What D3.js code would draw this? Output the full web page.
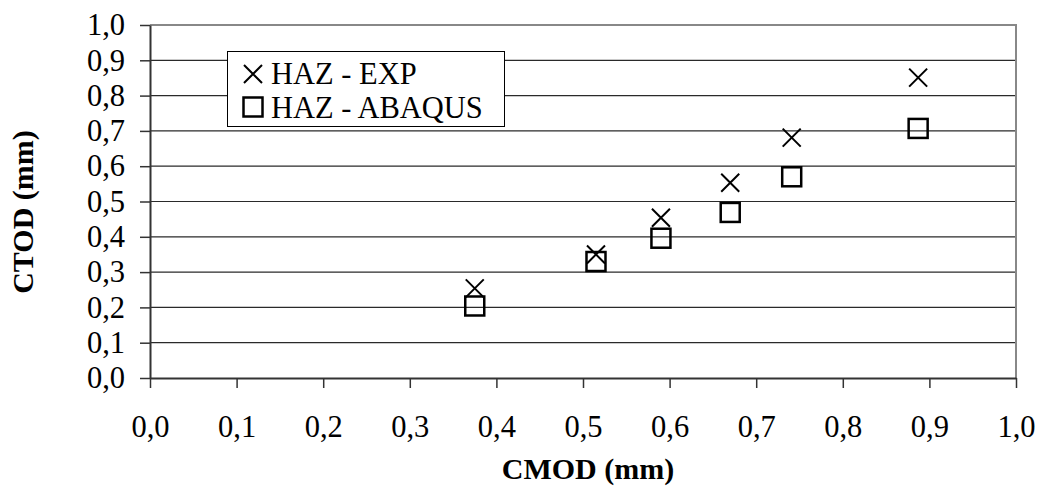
<!DOCTYPE html>
<html>
<head>
<meta charset="utf-8">
<script src="https://cdn.jsdelivr.net/npm/d3@7"></script>
<style>
  html, body { margin: 0; padding: 0; background: #fff; }
  svg { display: block; }
  text { font-family: "Liberation Serif", "Times New Roman", serif; fill: #000; }
</style>
</head>
<body>
<div id="chart"></div>
<script>
// CMOD vs CTOD measurements for the heat-affected zone
const cmod        = [0.375, 0.515, 0.590, 0.670, 0.741, 0.887];
const ctodExp     = [0.254, 0.350, 0.454, 0.553, 0.681, 0.851];
const ctodAbaqus  = [0.204, 0.330, 0.396, 0.469, 0.570, 0.707];
const seriesNames = ["HAZ - EXP", "HAZ - ABAQUS"];
const xTicks = [0, 0.1, 0.2, 0.3, 0.4, 0.5, 0.6, 0.7, 0.8, 0.9, 1.0];
const yTicks = [0, 0.1, 0.2, 0.3, 0.4, 0.5, 0.6, 0.7, 0.8, 0.9, 1.0];

const W = 1045, H = 486;
const plot = { left: 150, top: 25, right: 1016, bottom: 378 };
const FONT = '"Liberation Serif", "Times New Roman", serif';
const fmt = d => d3.format(".1f")(d).replace(".", ",");

const svg = d3.select("#chart").append("svg")
  .attr("width", W).attr("height", H);

const x = d3.scaleLinear().domain([0, 1]).range([plot.left, plot.right]);
const y = d3.scaleLinear().domain([0, 1]).range([plot.bottom, plot.top]);

// horizontal gridlines
svg.append("g")
  .selectAll("line")
  .data(yTicks.filter(d => d > 0 && d < 1))
  .join("line")
  .attr("x1", plot.left).attr("x2", plot.right)
  .attr("y1", d => y(d)).attr("y2", d => y(d))
  .attr("stroke", "#2a2a2a").attr("stroke-width", 1.2);

// plot-area frame (top and right)
svg.append("path")
  .attr("d", `M${plot.left},${y(1)}H${plot.right}V${plot.bottom}`)
  .attr("fill", "none").attr("stroke", "#888").attr("stroke-width", 2);

// axes
const xAxis = d3.axisBottom(x).tickValues(xTicks).tickFormat(fmt)
  .tickSize(10).tickSizeOuter(0).tickPadding(27);
const yAxis = d3.axisLeft(y).tickValues(yTicks).tickFormat(fmt)
  .tickSize(10).tickSizeOuter(0).tickPadding(15);

const gx = svg.append("g").attr("transform", `translate(0,${plot.bottom})`).call(xAxis);
const gy = svg.append("g").attr("transform", `translate(${plot.left},0)`).call(yAxis);

[gx, gy].forEach(g => {
  g.attr("font-family", FONT);
  g.select(".domain").attr("stroke", "#333").attr("stroke-width", 2);
  g.selectAll(".tick line").attr("stroke", "#333").attr("stroke-width", 1.5);
  g.selectAll(".tick text")
    .style("font-family", FONT)
    .style("font-size", "30.5px").attr("fill", "#000");
});

// axis titles
svg.append("text")
  .attr("x", 588).attr("y", 479)
  .attr("text-anchor", "middle")
  .style("font-family", FONT)
  .style("font-size", "30px").style("font-weight", "bold")
  .text("CMOD (mm)");

svg.append("text")
  .attr("transform", "translate(33,212) rotate(-90)")
  .attr("text-anchor", "middle")
  .style("font-family", FONT)
  .style("font-size", "30px").style("font-weight", "bold")
  .text("CTOD (mm)");

// marker shapes
const crossHalf = 9, squareHalf = 9.5;
function drawCross(g, cx, cy) {
  g.append("path")
    .attr("d", `M${cx - crossHalf},${cy - crossHalf}L${cx + crossHalf},${cy + crossHalf}M${cx - crossHalf},${cy + crossHalf}L${cx + crossHalf},${cy - crossHalf}`)
    .attr("stroke", "#000").attr("stroke-width", 2).attr("fill", "none");
}
function drawSquare(g, cx, cy) {
  g.append("rect")
    .attr("x", cx - squareHalf).attr("y", cy - squareHalf)
    .attr("width", squareHalf * 2).attr("height", squareHalf * 2)
    .attr("fill", "none").attr("stroke", "#000").attr("stroke-width", 2.5);
}

const marks = svg.append("g");
cmod.forEach((c, i) => drawCross(marks, x(c), y(ctodExp[i])));
cmod.forEach((c, i) => drawSquare(marks, x(c), y(ctodAbaqus[i])));

// legend
const legend = svg.append("g");
legend.append("rect")
  .attr("x", 227.5).attr("y", 51.5).attr("width", 277).attr("height", 75)
  .attr("fill", "#fff").attr("stroke", "#000").attr("stroke-width", 1);
drawCross(legend, 253, 74);
drawSquare(legend, 253, 107);
legend.append("text").attr("x", 271).attr("y", 84)
  .style("font-family", FONT)
  .style("font-size", "30.5px").text(seriesNames[0]);
legend.append("text").attr("x", 271).attr("y", 118)
  .style("font-family", FONT)
  .style("font-size", "30.5px").text(seriesNames[1]);
</script>
</body>
</html>
